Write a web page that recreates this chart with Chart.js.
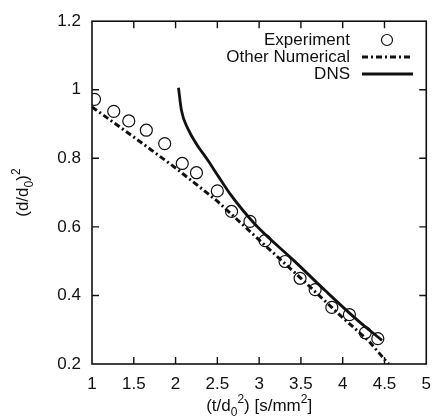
<!DOCTYPE html>
<html>
<head>
<meta charset="utf-8">
<script src="https://cdn.jsdelivr.net/npm/chart.js@4"></script>
<style>
  html, body { margin: 0; padding: 0; background: #fff; }
  canvas { display: block; }
</style>
</head>
<body>
<canvas id="dropChart" width="441" height="419"></canvas>
<script>
// experiment (open circles)
const expX = [1.03, 1.26, 1.44, 1.65, 1.87, 2.08, 2.25, 2.50, 2.67, 2.89, 3.07, 3.31, 3.49, 3.67, 3.87, 4.08, 4.27, 4.42];
const expY = [0.972, 0.937, 0.909, 0.882, 0.843, 0.785, 0.758, 0.705, 0.645, 0.616, 0.560, 0.499, 0.450, 0.417, 0.365, 0.344, 0.291, 0.274];

// other numerical (dash-dot)
const otherX = [1.0, 1.5, 2.0, 2.5, 3.0, 3.5, 4.0, 4.3, 4.55];
const otherY = [0.95, 0.862, 0.772, 0.675, 0.562, 0.45, 0.335, 0.27, 0.2];

// DNS (solid)
const dnsX = [2.035, 2.07, 2.15, 2.25, 2.39, 2.51, 2.65, 2.80, 3.0, 3.41, 3.80, 4.19, 4.47];
const dnsY = [1.006, 0.940, 0.885, 0.842, 0.793, 0.748, 0.697, 0.650, 0.595, 0.503, 0.412, 0.325, 0.269];

const xTicks = [1, 1.5, 2, 2.5, 3, 3.5, 4, 4.5, 5];
const yTicks = [0.2, 0.4, 0.6, 0.8, 1, 1.2];

const legendLabels = ['Experiment', 'Other Numerical', 'DNS'];

const FONT = '"Liberation Sans", Arial, sans-serif';

function toPoints(xs, ys) {
    return xs.map((x, i) => ({ x: x, y: ys[i] }));
}

function fmt(v) {
    return String(Number(v.toFixed(1)));
}

// draw a run of text pieces with sub/superscripts, centred at (cx, cy)
function drawRich(ctx, parts, cx, cy, size) {
    const small = Math.round(size * 0.7);
    let total = 0;
    parts.forEach(p => {
        ctx.font = (p.t === 'n' ? size : small) + 'px ' + FONT;
        p.w = ctx.measureText(p.s).width;
        total += p.w;
    });
    let x = cx - total / 2;
    ctx.textBaseline = 'alphabetic';
    ctx.textAlign = 'left';
    const base = cy + size * 0.36;
    parts.forEach(p => {
        ctx.font = (p.t === 'n' ? size : small) + 'px ' + FONT;
        let y = base;
        if (p.t === 'sub') y = base + size * 0.3;
        if (p.t === 'sup') y = base - size * 0.45;
        ctx.fillText(p.s, x, y);
        x += p.w;
    });
}

const framePlugin = {
    id: 'frame',
    afterDraw(chart) {
        const ctx = chart.ctx;
        const a = chart.chartArea;
        const xs = chart.scales.x;
        const ys = chart.scales.y;
        ctx.save();
        ctx.strokeStyle = '#111';
        ctx.lineWidth = 1.6;
        ctx.strokeRect(a.left, a.top, a.right - a.left, a.bottom - a.top);

        // inward ticks on all sides
        ctx.lineWidth = 1.4;
        ctx.beginPath();
        xTicks.slice(1, -1).forEach(v => {
            const px = xs.getPixelForValue(v);
            ctx.moveTo(px, a.bottom); ctx.lineTo(px, a.bottom - 7);
            ctx.moveTo(px, a.top); ctx.lineTo(px, a.top + 7);
        });
        yTicks.slice(1, -1).forEach(v => {
            const py = ys.getPixelForValue(v);
            ctx.moveTo(a.left, py); ctx.lineTo(a.left + 7, py);
            ctx.moveTo(a.right, py); ctx.lineTo(a.right - 7, py);
        });
        ctx.stroke();

        // legend, text right aligned with samples on the right
        ctx.fillStyle = '#111';
        ctx.font = '17px ' + FONT;
        ctx.textAlign = 'right';
        ctx.textBaseline = 'middle';
        const tx = 350, sx0 = 362, sx1 = 413;
        const rows = [40, 57, 74];
        legendLabels.forEach((t, i) => ctx.fillText(t, tx, rows[i]));

        ctx.lineWidth = 1.2;
        ctx.beginPath();
        ctx.arc(387, rows[0], 5.5, 0, Math.PI * 2);
        ctx.stroke();

        ctx.lineWidth = 3;
        ctx.setLineDash([6, 3, 2, 3]);
        ctx.beginPath();
        ctx.moveTo(sx0, rows[1]); ctx.lineTo(sx1, rows[1]);
        ctx.stroke();

        ctx.setLineDash([]);
        ctx.lineWidth = 2.8;
        ctx.beginPath();
        ctx.moveTo(sx0, rows[2]); ctx.lineTo(sx1, rows[2]);
        ctx.stroke();

        // axis titles
        const midX = (a.left + a.right) / 2;
        drawRich(ctx, [
            { s: '(t/d', t: 'n' }, { s: '0', t: 'sub' }, { s: '2', t: 'sup' },
            { s: ') [s/mm', t: 'n' }, { s: '2', t: 'sup' }, { s: ']', t: 'n' }
        ], midX, 405, 17);

        ctx.save();
        ctx.translate(22, (a.top + a.bottom) / 2);
        ctx.rotate(-Math.PI / 2);
        drawRich(ctx, [
            { s: '(d/d', t: 'n' }, { s: '0', t: 'sub' }, { s: ')', t: 'n' }, { s: '2', t: 'sup' }
        ], 0, 0, 17);
        ctx.restore();
        ctx.restore();
    }
};

const ctx = document.getElementById('dropChart').getContext('2d');
const chart = new Chart(ctx, {
    type: 'scatter',
    data: {
        datasets: [
            {
                label: legendLabels[0],
                data: toPoints(expX, expY),
                showLine: false,
                pointStyle: 'circle',
                pointRadius: 6,
                pointBorderWidth: 1.2,
                pointBorderColor: '#111',
                pointBackgroundColor: 'rgba(0,0,0,0)'
            },
            {
                label: legendLabels[1],
                data: toPoints(otherX, otherY),
                showLine: true,
                borderColor: '#111',
                borderWidth: 3,
                borderDash: [6, 3, 2, 3],
                pointRadius: 0,
                tension: 0
            },
            {
                label: legendLabels[2],
                data: toPoints(dnsX, dnsY),
                showLine: true,
                borderColor: '#111',
                borderWidth: 2.8,
                pointRadius: 0,
                cubicInterpolationMode: 'monotone'
            }
        ]
    },
    options: {
        responsive: false,
        animation: false,
        layout: { padding: { top: 18, right: 9, left: 0, bottom: 0 } },
        plugins: {
            legend: { display: false },
            tooltip: { enabled: false }
        },
        scales: {
            x: {
                type: 'linear',
                min: 1, max: 5,
                afterFit: s => { s.height = 55; },
                afterBuildTicks: s => { s.ticks = xTicks.map(v => ({ value: v })); },
                grid: { display: false, drawTicks: false },
                border: { display: false },
                ticks: { color: '#111', padding: 10, font: { family: FONT, size: 17 }, maxRotation: 0, callback: v => fmt(v) }
            },
            y: {
                type: 'linear',
                min: 0.2, max: 1.2,
                afterFit: s => { s.width = 92; },
                afterBuildTicks: s => { s.ticks = yTicks.map(v => ({ value: v })); },
                grid: { display: false, drawTicks: false },
                border: { display: false },
                ticks: { color: '#111', padding: 11, font: { family: FONT, size: 17 }, callback: v => fmt(v) }
            }
        }
    },
    plugins: [framePlugin]
});
</script>
</body>
</html>
